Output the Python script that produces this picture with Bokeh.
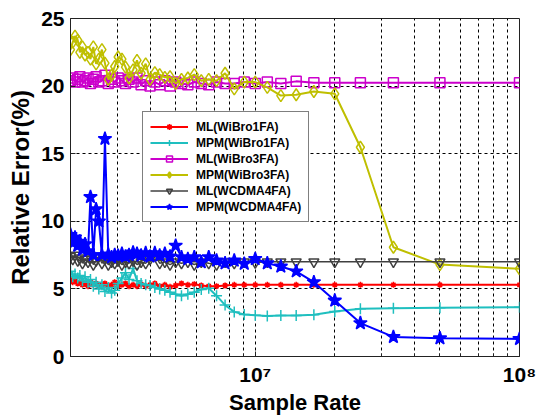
from bokeh.plotting import figure
from bokeh.models import (FixedTicker, Legend, LegendItem, CustomJSTickFormatter, Range1d)
from bokeh.embed import file_html
from bokeh.resources import INLINE

# Sample rates in MHz (100 MHz / k)
rates_mhz = [100, 50, 33.33, 25, 20, 16.67, 14.29, 12.5, 11.11, 10,
             9.09, 8.33, 7.69, 7.14, 6.67, 6.25, 5.88, 5.56, 5.26, 5,
             4.76, 4.55, 4.35, 4.17, 4, 3.85, 3.70, 3.57, 3.45, 3.33,
             3.23, 3.13, 3.03, 2.94, 2.86, 2.78, 2.70, 2.63, 2.56, 2.5,
             2.44, 2.38, 2.33, 2.27, 2.22, 2.17, 2.13, 2.08, 2.04, 2.0]

ml_wibro1 = [5.3, 5.3, 5.3, 5.3, 5.3, 5.3, 5.3, 5.3, 5.3, 5.3,
             5.3, 5.3, 5.25, 5.2, 5.2, 5.25, 5.35, 5.3, 5.4, 5.25,
             5.15, 5.3, 5.2, 5.4, 5.3, 5.2, 5.35, 5.2, 5.3, 5.2,
             5.4, 5.3, 5.2, 5.5, 5.3, 5.2, 5.4, 5.3, 5.2, 5.4,
             5.3, 5.5, 5.2, 5.4, 5.3, 5.5, 5.4, 5.6, 5.5, 5.7]

mpm_wibro1 = [3.65, 3.6, 3.57, 3.53, 3.33, 3.08, 3.03, 3.03, 3.0, 3.05,
              3.1, 3.3, 3.8, 4.5, 5.05, 4.95, 4.75, 4.6, 4.5, 4.6,
              4.75, 4.9, 5.0, 5.1, 5.25, 5.3, 5.4, 5.6, 6.5, 5.7,
              6.2, 5.8, 5.4, 4.9, 4.7, 5.1, 4.8, 5.3, 5.0, 5.5,
              5.2, 5.7, 5.5, 5.9, 5.6, 6.0, 5.8, 6.1, 5.9, 6.3]

ml_wibro3 = [20.25, 20.25, 20.25, 20.25, 20.25, 20.25, 20.35, 20.2, 20.3, 20.2,
             20.3, 20.2, 20.2, 20.3, 20.1, 20.2, 20.3, 20.1, 20.2, 20.3,
             20.0, 20.4, 20.1, 20.3, 20.0, 20.4, 20.1, 20.6, 20.3, 20.5,
             20.2, 20.4, 20.6, 20.3, 20.5, 20.2, 20.8, 20.4, 20.3, 20.7,
             20.5, 20.2, 20.6, 20.4, 20.3, 20.7, 20.5, 20.3, 20.6, 20.4]

mpm_wibro3 = [6.49, 6.8, 8.08, 15.48, 19.43, 19.6, 19.36, 19.3, 19.9, 20.3,
              20.3, 19.8, 20.95, 20.4, 20.5, 20.4, 20.85, 20.6, 20.5, 20.2,
              20.7, 20.65, 20.85, 21.0, 20.5, 21.65, 20.95, 21.9, 21.2, 20.6,
              21.4, 22.0, 22.15, 21.45, 20.8, 20.5, 21.7, 22.7, 22.0, 21.65,
              22.9, 22.0, 22.5, 22.3, 22.9, 22.5, 23.4, 23.7, 23.25, 22.7]

ml_wcdma4 = [7.0, 7.0, 7.0, 7.0, 7.0, 7.0, 7.0, 7.0, 7.0, 6.95,
             7.0, 6.9, 7.0, 6.8, 6.9, 7.0, 6.8, 7.0, 6.9, 7.0,
             6.8, 7.0, 6.9, 7.5, 7.2, 6.9, 7.0, 6.8, 7.1, 6.9,
             7.0, 6.8, 7.1, 6.9, 7.0, 6.8, 7.2, 6.9, 7.4, 7.1,
             6.8, 7.3, 7.0, 7.2, 6.9, 7.3, 7.1, 7.5, 7.2, 7.4]

mpm_wcdma4 = [1.3, 1.35, 1.45, 2.47, 4.14, 5.5, 6.3, 6.66, 6.9, 7.22,
              6.86, 7.1, 6.9, 7.1, 7.35, 6.98, 7.35, 7.22, 7.35, 8.2,
              7.4, 7.6, 7.47, 7.65, 7.4, 7.65, 7.47, 7.6, 7.7, 7.5,
              7.4, 7.6, 7.45, 7.5, 7.35, 7.55, 16.1, 7.5, 10.0, 10.9,
              7.5, 11.8, 7.8, 8.3, 7.9, 8.5, 8.2, 8.8, 8.4, 9.0]

y_ticks = [0, 5, 10, 15, 20, 25]
x_label_ticks = [1e7, 1e8]
x_grid_ticks = [3e6, 4e6, 5e6, 6e6, 7e6, 8e6, 9e6, 1e7,
                2e7, 3e7, 4e7, 5e7, 6e7, 7e7, 8e7, 9e7, 1e8]

x = [r * 1e6 for r in rates_mhz]

FONT = "Liberation Sans"

p = figure(width=536, height=419, x_axis_type="log",
           x_range=Range1d(2e6, 1e8), y_range=Range1d(0, 25),
           output_backend="svg", toolbar_location=None,
           min_border_left=70, min_border_right=17,
           min_border_top=18, min_border_bottom=63)
p.background_fill_color = "white"
p.border_fill_color = "white"
p.outline_line_color = "#222222"
p.outline_line_width = 1

# grid
p.xgrid.ticker = FixedTicker(ticks=x_grid_ticks)
p.ygrid.ticker = FixedTicker(ticks=y_ticks)
for g in (p.xgrid[0], p.ygrid[0]):
    g.grid_line_color = "black"
    g.grid_line_dash = "3 3"
    g.grid_line_width = 1
    g.grid_line_alpha = 1

minor_x = [t for t in x_grid_ticks if t not in x_label_ticks]

# axes
p.xaxis.ticker = FixedTicker(ticks=x_label_ticks, minor_ticks=minor_x)
p.xaxis.formatter = CustomJSTickFormatter(
    code="var e = Math.round(Math.log10(tick)); return '10' + (e == 7 ? '\u2077' : '\u2078');")
p.yaxis.ticker = FixedTicker(ticks=y_ticks)
for ax in (p.xaxis[0], p.yaxis[0]):
    ax.major_tick_in = 5
    ax.major_tick_out = 0
    ax.minor_tick_in = 3
    ax.minor_tick_out = 0
    ax.axis_line_color = "#222222"
    ax.major_tick_line_color = "#222222"
    ax.minor_tick_line_color = "#222222"
    ax.major_label_text_font = FONT
    ax.major_label_text_font_style = "bold"
    ax.major_label_text_font_size = "21px"
    ax.major_label_text_color = "black"
    ax.axis_label_text_font = FONT
    ax.axis_label_text_font_style = "bold"
    ax.axis_label_text_color = "black"
p.yaxis.minor_tick_line_color = None
p.xaxis.axis_label_text_font_size = "22px"
p.yaxis.axis_label_text_font_size = "24px"
p.xaxis.axis_label = "Sample Rate"
p.yaxis.axis_label = "Relative Error(%)"
p.xaxis.major_label_standoff = 6
p.yaxis.major_label_standoff = 6
p.xaxis.axis_label_standoff = 1
p.yaxis.axis_label_standoff = 4

series = [
    ("ML(WiBro1FA)", ml_wibro1, "#FF0000", "asterisk", 6, "#FF0000", 2),
    ("MPM(WiBro1FA)", mpm_wibro1, "#1FBFBF", "cross", 11, "#1FBFBF", 2),
    ("ML(WiBro3FA)", ml_wibro3, "#CC00CC", "square", 10, None, 2),
    ("MPM(WiBro3FA)", mpm_wibro3, "#BFBF00", "diamond", 12, None, 2),
    ("ML(WCDMA4FA)", ml_wcdma4, "#404040", "inverted_triangle", 10, None, 1.5),
    ("MPM(WCDMA4FA)", mpm_wcdma4, "#0000FF", "star", 14, "#0000FF", 2),
]

items = []
for name, ys, col, mk, sz, fill, lw in series:
    r1 = p.line(x, ys, line_color=col, line_width=lw)
    r2 = p.scatter(x, ys, marker=mk, size=sz, line_color=col,
                   fill_color=fill if fill else "white",
                   fill_alpha=1 if fill else 0, line_width=1.5)
    items.append(LegendItem(label=name, renderers=[r1, r2]))

legend = Legend(items=items, location=(72, 134))
legend.label_text_font = FONT
legend.label_text_font_style = "bold"
legend.label_text_font_size = "12px"
legend.label_text_color = "black"
legend.glyph_width = 38
legend.glyph_height = 15
legend.label_height = 15
legend.label_standoff = 8
legend.spacing = 1
legend.padding = 7
legend.margin = 0
legend.border_line_color = "black"
legend.border_line_width = 1
legend.background_fill_color = "white"
legend.background_fill_alpha = 1
p.add_layout(legend, "center")

open("out.html", "w").write(file_html(p, INLINE))
